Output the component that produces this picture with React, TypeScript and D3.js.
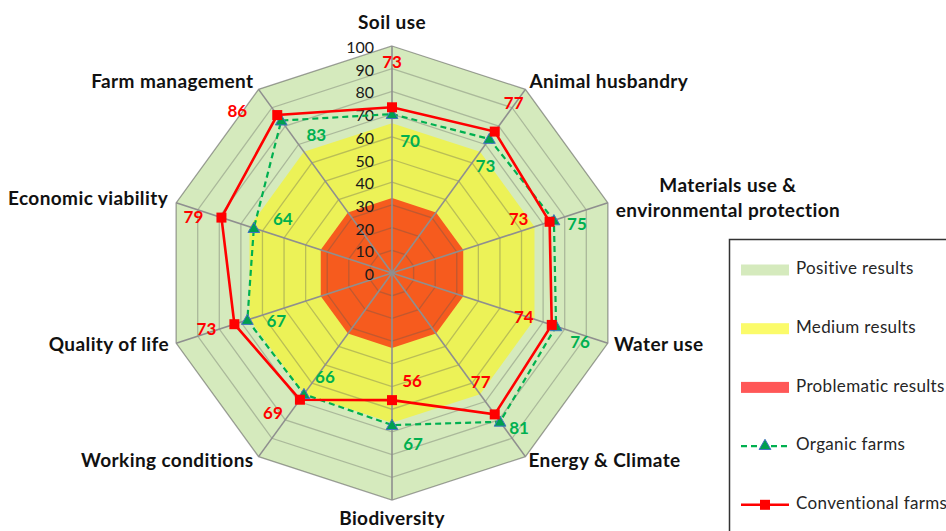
import React from "react";
import * as d3 from "d3";

const categories = [
  "Soil use",
  "Animal husbandry",
  "Materials use &\nenvironmental protection",
  "Water use",
  "Energy & Climate",
  "Biodiversity",
  "Working conditions",
  "Quality of life",
  "Economic viability",
  "Farm management",
];
const conventional = [73, 77, 73, 74, 77, 56, 69, 73, 79, 86];
const organic = [70, 73, 75, 76, 81, 67, 66, 67, 64, 83];
const positiveBand = [100, 100, 100, 100, 100, 100, 100, 100, 100, 100];
const mediumBand = [66, 66, 66, 66, 66, 66, 66, 66, 66, 66];
const problematicBand = [33, 33, 33, 33, 33, 33, 33, 33, 33, 33];
const ticks = [0, 10, 20, 30, 40, 50, 60, 70, 80, 90, 100];
const legendLabels = ["Positive results", "Medium results", "Problematic results", "Organic farms", "Conventional farms"];

// layout constants (offsets of labels from computed anchors)
const convLabelOffset: [number, number][] = [
  [0, -44], [19, -27], [-31, -1], [-28, -6], [-14, -31], [20, -17], [-27, 15], [-28, 6], [-28, 1], [-40, -2],
];
const orgLabelOffset: [number, number][] = [
  [18, 29], [-4, 29], [23, 5], [24, 17], [19, 8], [21, 21], [21, -16], [29, 3], [29, -7], [35, 16],
];
const catLabelPos: { dx: number; dy: number; anchor: string }[] = [
  { dx: 0, dy: -22, anchor: "middle" },
  { dx: 4, dy: -6, anchor: "start" },
  { dx: 120, dy: -3, anchor: "middle" },
  { dx: 6, dy: 3, anchor: "start" },
  { dx: 3, dy: 5, anchor: "start" },
  { dx: 0, dy: 20, anchor: "middle" },
  { dx: -5, dy: 5, anchor: "end" },
  { dx: -7, dy: 3, anchor: "end" },
  { dx: -8, dy: -3, anchor: "end" },
  { dx: -5, dy: -6, anchor: "end" },
];

const W = 946;
const H = 531;
const CX = 392;
const CY = 273;
const R = 227;
const FONT = "Lato, 'Open Sans', sans-serif";

export default function App() {
  const n = categories.length;
  const r = d3.scaleLinear().domain([0, 100]).range([0, R]);
  const ang = (i: number) => (i * 2 * Math.PI) / n;
  const pt = (i: number, v: number): [number, number] => [
    CX + r(v) * Math.sin(ang(i)),
    CY - r(v) * Math.cos(ang(i)),
  ];
  const closed = d3.line<[number, number]>().curve(d3.curveLinearClosed);
  const poly = (vals: number[]) => closed(vals.map((v, i) => pt(i, v))) as string;
  const ring = (v: number) => poly(d3.range(n).map(() => v));

  const tri = d3.symbol().type(d3.symbolTriangle).size(60)() as string;

  return (
    <svg width={W} height={H} style={{ position: "absolute", left: 0, top: 0, background: "#fff" }} fontFamily={FONT}>
      {/* bands */}
      <path d={poly(positiveBand)} fill="#d5eabd" />
      <path d={poly(mediumBand)} fill="#ecf257" />
      <path d={poly(problematicBand)} fill="#f65b1e" />
      {/* rings */}
      {ticks.slice(1).map((t) => (
        <path key={t} d={ring(t)} fill="none" stroke="#555" strokeOpacity={t === 100 ? 0.55 : 0.33} strokeWidth={1.3} />
      ))}
      {/* spokes */}
      {d3.range(n).map((i) => {
        const [x, y] = pt(i, 100);
        return <line key={i} x1={CX} y1={CY} x2={x} y2={y} stroke="#8f8f8f" strokeWidth={1.6} />;
      })}
      {/* tick labels */}
      {ticks.map((t) => (
        <text key={t} x={374} y={CY - r(t) + 3} textAnchor="end" dominantBaseline="middle" fontSize={16} fill="#1a1a1a">
          {t}
        </text>
      ))}
      {/* organic series */}
      <path d={poly(organic)} fill="none" stroke="#00b050" strokeWidth={2.2} strokeDasharray="6,4" />
      {/* conventional series */}
      <path d={poly(conventional)} fill="none" stroke="#ff0000" strokeWidth={2.6} />
      {organic.map((v, i) => {
        const [x, y] = pt(i, v);
        return <path key={i} d={tri} transform={`translate(${x},${y + 1})`} fill="#00a050" stroke="#4472c4" strokeWidth={1} />;
      })}
      {conventional.map((v, i) => {
        const [x, y] = pt(i, v);
        return <rect key={i} x={x - 5} y={y - 5} width={10} height={10} fill="#ff0000" />;
      })}
      {/* data labels */}
      {conventional.map((v, i) => {
        const [x, y] = pt(i, v);
        const [dx, dy] = convLabelOffset[i];
        return (
          <text key={i} x={x + dx} y={y + dy} textAnchor="middle" dominantBaseline="middle" fontSize={17} fontWeight="bold" fill="#ff0000">
            {v}
          </text>
        );
      })}
      {organic.map((v, i) => {
        const [x, y] = pt(i, v);
        const [dx, dy] = orgLabelOffset[i];
        return (
          <text key={i} x={x + dx} y={y + dy} textAnchor="middle" dominantBaseline="middle" fontSize={17} fontWeight="bold" fill="#00b050">
            {v}
          </text>
        );
      })}
      {/* category labels */}
      {categories.map((c, i) => {
        const [x, y] = pt(i, 100);
        const p = catLabelPos[i];
        const lines = c.split("\n");
        const lh = 25;
        const y0 = y + p.dy - ((lines.length - 1) * lh) / 2;
        return (
          <text key={i} x={x + p.dx} y={y0} textAnchor={p.anchor as any} dominantBaseline="middle" fontSize={19} letterSpacing={0.4} fontWeight="bold" fill="#111">
            {lines.map((l, k) => (
              <tspan key={k} x={x + p.dx} y={y0 + k * lh}>
                {l}
              </tspan>
            ))}
          </text>
        );
      })}
      {/* legend */}
      <rect x={729.5} y={239.5} width={240} height={320} fill="#fff" stroke="#333" strokeWidth={1.5} />
      {legendLabels.map((l, k) => {
        const cy = 270 + k * 58.7;
        let sw: React.ReactNode = null;
        if (k === 0) sw = <rect x={741} y={cy - 5.5} width={48} height={11} fill="#d5eabd" />;
        if (k === 1) sw = <rect x={741} y={cy - 5.5} width={48} height={11} fill="#fbfb6a" />;
        if (k === 2) sw = <rect x={741} y={cy - 5.5} width={48} height={11} fill="#ff5757" />;
        if (k === 3)
          sw = (
            <g>
              <line x1={741} y1={cy} x2={789} y2={cy} stroke="#00b050" strokeWidth={2.2} strokeDasharray="6,4" />
              <path d={tri} transform={`translate(765,${cy})`} fill="#00a050" stroke="#4472c4" strokeWidth={1} />
            </g>
          );
        if (k === 4)
          sw = (
            <g>
              <line x1={741} y1={cy} x2={789} y2={cy} stroke="#ff0000" strokeWidth={2.6} />
              <rect x={760} y={cy - 5} width={10} height={10} fill="#ff0000" />
            </g>
          );
        return (
          <g key={k}>
            {sw}
            <text x={796} y={cy} dominantBaseline="middle" fontSize={17} letterSpacing={0.35} fill="#262626">
              {l}
            </text>
          </g>
        );
      })}
    </svg>
  );
}
